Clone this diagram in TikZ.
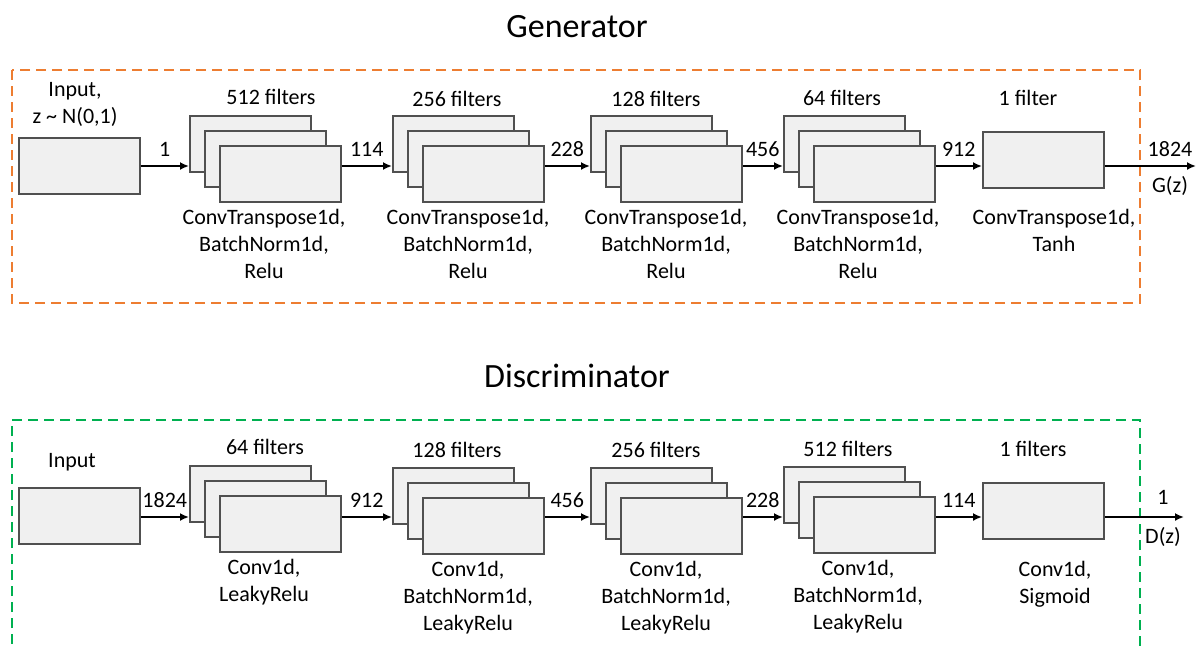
\documentclass[tikz,border=0pt]{standalone}
\usepackage{fontspec}
\setmainfont{Carlito}
\usetikzlibrary{arrows.meta}
\definecolor{genorange}{HTML}{ED7D31}
\definecolor{disgreen}{HTML}{00B050}
\definecolor{boxfill}{HTML}{F0F0F0}
\definecolor{boxline}{HTML}{505050}
\tikzset{
  blk/.style={draw=boxline, fill=boxfill, line width=1.5pt, rectangle, minimum width=121pt, minimum height=56pt, inner sep=0pt, anchor=north west},
  txt/.style={font=\fontsize{22}{27}\selectfont, align=center, anchor=base, inner sep=0pt},
  ttl/.style={font=\fontsize{34}{40}\selectfont, anchor=base, inner sep=0pt},
  arr/.style={line width=1.8pt, -{Latex[length=9pt,width=8pt]}},
  lbl/.style={font=\fontsize{22}{27}\selectfont, anchor=base, inner sep=0pt, yshift=10pt},
  frame/.style={line width=2pt, dash pattern=on 10pt off 6pt},
}
\newcommand\layerstack[3]{%
  \node[blk] (#1a) at (#2,#3) {};
  \node[blk] (#1b) at (#2+15,#3+15) {};
  \node[blk] (#1c) at (#2+30,#3+30) {};
}
\begin{document}
\begin{tikzpicture}[x=1pt,y=-1pt]
\useasboundingbox (0,0) rectangle (1198,648);
% ---------------- Generator ----------------
\node[ttl] (gtitle) at (577,37) {Generator};
\draw[frame, genorange] (12,70) rectangle (1140,303);
\coordinate (grow) at (0,166);
\node[blk] (gin) at (18,137) {};
\node[txt] (gintxt) at (75,123) {Input,\\z \textasciitilde{} N(0,1)};
\layerstack{g1}{189}{115}
\layerstack{g2}{392}{115}
\layerstack{g3}{590}{115}
\layerstack{g4}{783}{115}
\node[blk] (gout) at (982,131) {};
\coordinate (gend) at (1196,166);
\node[txt] (g1f) at (271,104) {512 filters};
\node[txt] (g2f) at (457,106) {256 filters};
\node[txt] (g3f) at (656,106) {128 filters};
\node[txt] (g4f) at (842,105) {64 filters};
\node[txt] (g5f) at (1028,105) {1 filter};
\node[txt] (g1t) at (264,278) {ConvTranspose1d,\\BatchNorm1d,\\Relu};
\node[txt] (g2t) at (468,278) {ConvTranspose1d,\\BatchNorm1d,\\Relu};
\node[txt] (g3t) at (666,278) {ConvTranspose1d,\\BatchNorm1d,\\Relu};
\node[txt] (g4t) at (858,278) {ConvTranspose1d,\\BatchNorm1d,\\Relu};
\node[txt] (g5t) at (1054,251) {ConvTranspose1d,\\Tanh};
\draw[arr] (gin.east |- grow) -- node[lbl] {1} (g1a.west |- grow);
\draw[arr] (g1c.east |- grow) -- node[lbl] {114} (g2a.west |- grow);
\draw[arr] (g2c.east |- grow) -- node[lbl] {228} (g3a.west |- grow);
\draw[arr] (g3c.east |- grow) -- node[lbl] {456} (g4a.west |- grow);
\draw[arr] (g4c.east |- grow) -- node[lbl] {912} (gout.west |- grow);
\draw[arr] (gout.east |- grow) -- (gend);
\node[txt] (gol) at (1170,156) {1824};
\node[txt] (goz) at (1170,192) {G(z)};
% ---------------- Discriminator ----------------
\node[ttl] (dtitle) at (577,387) {Discriminator};
\draw[frame, disgreen] (12,660) -- (12,420) -- (1140,420) -- (1140,660);
\coordinate (drow) at (0,517);
\node[blk] (din) at (18,487) {};
\node[txt] (dintxt) at (72,467) {Input};
\layerstack{d1}{189}{465}
\layerstack{d2}{392}{467}
\layerstack{d3}{590}{467}
\layerstack{d4}{783}{466}
\node[blk] (dout) at (982,482) {};
\coordinate (dend) at (1184,517);
\node[txt] (d1f) at (265,454) {64 filters};
\node[txt] (d2f) at (457,457) {128 filters};
\node[txt] (d3f) at (656,457) {256 filters};
\node[txt] (d4f) at (848,456) {512 filters};
\node[txt] (d5f) at (1033,456) {1 filters};
\node[txt] (d1t) at (264,601) {Conv1d,\\LeakyRelu};
\node[txt] (d2t) at (468,630) {Conv1d,\\BatchNorm1d,\\LeakyRelu};
\node[txt] (d3t) at (666,630) {Conv1d,\\BatchNorm1d,\\LeakyRelu};
\node[txt] (d4t) at (858,629) {Conv1d,\\BatchNorm1d,\\LeakyRelu};
\node[txt] (d5t) at (1055,603) {Conv1d,\\Sigmoid};
\draw[arr] (din.east |- drow) -- node[lbl] {1824} (d1a.west |- drow);
\draw[arr] (d1c.east |- drow) -- node[lbl] {912} (d2a.west |- drow);
\draw[arr] (d2c.east |- drow) -- node[lbl] {456} (d3a.west |- drow);
\draw[arr] (d3c.east |- drow) -- node[lbl] {228} (d4a.west |- drow);
\draw[arr] (d4c.east |- drow) -- node[lbl] {114} (dout.west |- drow);
\draw[arr] (dout.east |- drow) -- (dend);
\node[txt] (dol) at (1163,504) {1};
\node[txt] (doz) at (1163,543) {D(z)};
\end{tikzpicture}
\end{document}
